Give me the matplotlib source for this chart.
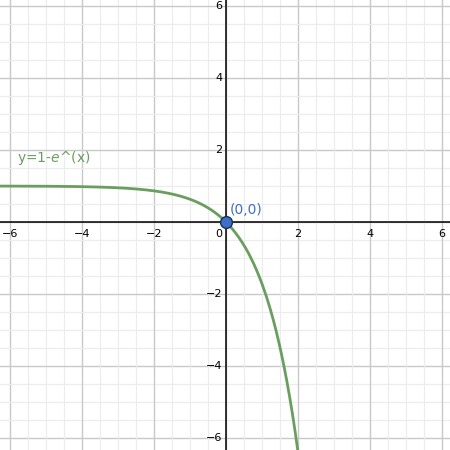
import numpy as np
from matplotlib import pyplot as plt

# graphe de y = 1 - e^x (style GeoGebra)
x_ticks = [-6, -4, -2, 2, 4, 6]
y_ticks = [-6, -4, -2, 2, 4, 6]
point = (0, 0)
point_label = "(0,0)"
curve_label = "y=1-$e$^(x)"

green = "#6a9e5f"
blue = "#3d6fc4"

fig = plt.figure(figsize=(4.5, 4.5), dpi=100)
ax = fig.add_axes([0, 0, 1, 1])
ax.set_xlim(-226 / 36, 224 / 36)
ax.set_ylim(-228 / 36, 222 / 36)

# grille
for v in np.arange(-7, 7.01, 0.5):
    major = abs(v % 2) < 1e-9
    c = "#c9c9c9" if major else "#ececec"
    lw = 1.0 if major else 0.8
    ax.axvline(v, color=c, lw=lw, zorder=0)
    ax.axhline(v, color=c, lw=lw, zorder=0)
ax.axhline(0, color="black", lw=1.1, zorder=1)
ax.axvline(0, color="black", lw=1.1, zorder=1)

for t in x_ticks:
    ax.text(t, -0.2, "−" + str(-t) if t < 0 else str(t), ha="center", va="top",
            fontsize=8, color="black")
for t in y_ticks:
    ax.text(-0.1, t, "−" + str(-t) if t < 0 else str(t), ha="right", va="center",
            fontsize=8, color="black")
ax.text(-0.1, -0.2, "0", ha="right", va="top", fontsize=8, color="black")

xs = np.linspace(-7, 2.2, 600)
ax.plot(xs, 1 - np.exp(xs), color=green, lw=2, zorder=3)
ax.text(-5.8, 1.78, curve_label, color=green, fontsize=10, ha="left", va="center")

ax.plot(*point, "o", ms=8.5, mfc=blue, mec="#1a2f5a", mew=1, zorder=4)
ax.text(0.1, 0.13, point_label, color=blue, fontsize=10, ha="left", va="bottom")

for s in ax.spines.values():
    s.set_visible(False)
ax.set_xticks([])
ax.set_yticks([])

fig.savefig("out.png", dpi=100)
